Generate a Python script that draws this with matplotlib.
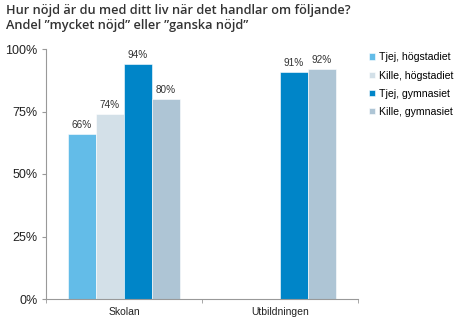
import matplotlib
matplotlib.use("Agg")
import matplotlib.pyplot as plt
import numpy as np

categories = ["Skolan", "Utbildningen"]
series = ["Tjej, högstadiet", "Kille, högstadiet", "Tjej, gymnasiet", "Kille, gymnasiet"]
values = [
    [66, None],
    [74, None],
    [94, 91],
    [80, 92],
]
colors = ["#63BCE8", "#D3E0E8", "#0085C8", "#AEC5D5"]
yticks = [0, 25, 50, 75, 100]

fig = plt.figure(figsize=(4.74, 3.32), dpi=100)
ax = fig.add_axes([46 / 474, 1 - 299 / 332, (358 - 46) / 474, 250 / 332])

fig.text(6 / 474, 1 - 4 / 332, "Hur nöjd är du med ditt liv när det handlar om följande?\nAndel \u201dmycket nöjd\u201d eller \u201dganska nöjd\u201d",
         ha="left", va="top", fontsize=9.2, family="Open Sans", fontweight="semibold",
         color="#333333", linespacing=1.2)

n = len(series)
w = 0.72 / n
x = np.arange(len(categories))
for i, (name, vals, c) in enumerate(zip(series, values, colors)):
    xs = [xi + (i - (n - 1) / 2) * w for xi, v in zip(x, vals) if v is not None]
    vs = [v for v in vals if v is not None]
    bars = ax.bar(xs, vs, width=w, color=c, edgecolor="white", linewidth=0.4, label=name)
    for b, v in zip(bars, vs):
        ax.text(b.get_x() + b.get_width() / 2, v + 1.5, f"{v}%", ha="center", va="bottom",
                fontsize=7.2, family="Liberation Sans", color="#333333")

ax.set_xlim(-0.5, 1.5)
ax.set_ylim(0, 100)
ax.set_yticks(yticks)
ax.set_yticklabels([f"{t}%" for t in yticks], family="Liberation Sans", fontsize=9, color="#222222")
ax.set_xticks([-0.5, 0.5, 1.5], minor=True)
ax.set_xticks(x)
ax.set_xticklabels(categories, family="Liberation Sans", fontsize=7.5, color="#222222")
ax.tick_params(axis="x", which="major", length=0, pad=6)
ax.tick_params(axis="x", which="minor", length=3, color="#999999")
ax.tick_params(axis="y", length=3, color="#999999", pad=3)
for s in ["top", "right"]:
    ax.spines[s].set_visible(False)
for s in ["left", "bottom"]:
    ax.spines[s].set_color("#999999")
    ax.spines[s].set_linewidth(0.8)

leg = fig.legend(loc="upper left", bbox_to_anchor=(364 / 474, 1 - 47 / 332), frameon=False,
                 prop={"family": "Liberation Sans", "size": 7.6}, handlelength=0.55,
                 handleheight=0.55, handletextpad=0.4, labelspacing=0.78, borderpad=0)

fig.savefig("out.png", dpi=100)
